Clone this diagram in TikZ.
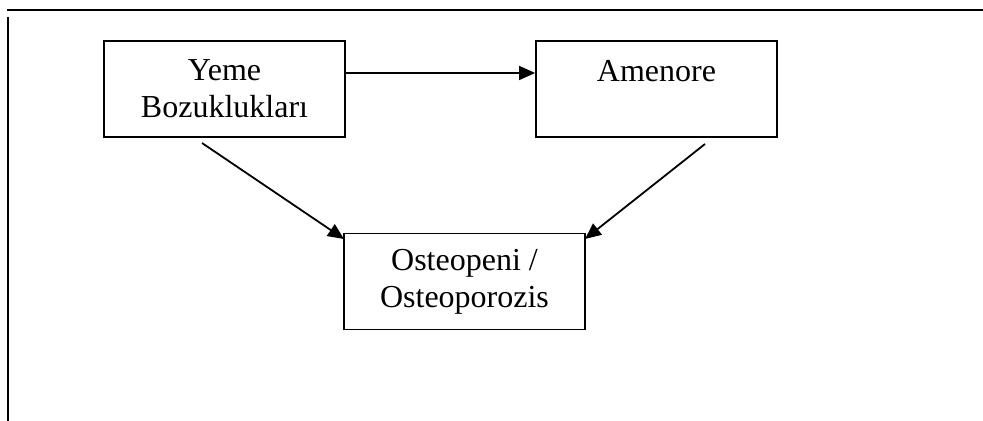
\documentclass[tikz,border=0pt]{standalone}
\usepackage{fontspec}
\setmainfont{Liberation Serif}
\usetikzlibrary{arrows.meta, positioning}

\begin{document}
\begin{tikzpicture}[x=0.5pt, y=-0.5pt, line width=0.9pt,
	every node/.style={draw, align=center, minimum width=120.5pt, minimum height=48pt, inner sep=0pt, font=\fontsize{16}{18.5}\selectfont},
	>={Triangle[length=8pt, width=7pt]}]
	\useasboundingbox (0,0) rectangle (983,421);
	% page frame
	\draw[line width=0.8pt] (7,10) -- (983,10);
	\draw[line width=0.8pt] (8,17) -- (8,421);

	\node (yeme) at (224.5,89) {Yeme\\Bozuklukları};
	\node (amen) at (656.5,89) {Amenore\\\mbox{}};
	\node (osteo) at (464.5,281.5) {Osteopeni /\\Osteoporozis};

	\coordinate (y1) at (202,143);
	\coordinate (a1) at (705,144);
	\coordinate (o1) at (344,239);
	\coordinate (o2) at (585,239);

	\draw[->] (yeme.east |- 0,73) -- (amen.west |- 0,73);
	\draw[->] (y1) -- (o1);
	\draw[->] (a1) -- (o2);
\end{tikzpicture}
\end{document}
